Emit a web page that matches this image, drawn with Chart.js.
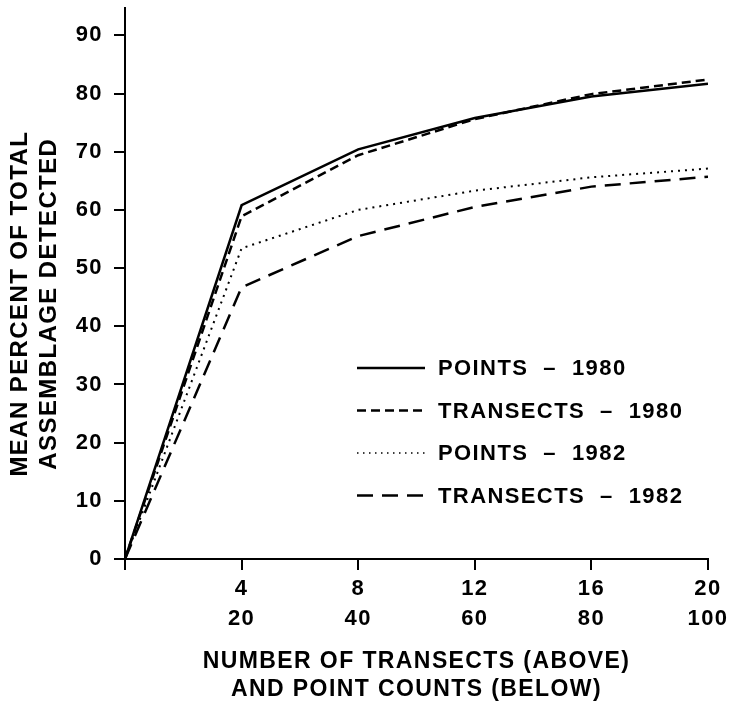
<!DOCTYPE html>
<html>
<head>
<meta charset="utf-8">
<script src="https://cdn.jsdelivr.net/npm/chart.js@4/dist/chart.umd.min.js"></script>
<style>
  html, body { margin: 0; padding: 0; background: #fff; }
  #wrap { width: 731px; height: 701px; }
</style>
</head>
<body>
<div id="wrap"><canvas id="detectChart" width="731" height="701"></canvas></div>
<script>
// transect counts (x), point counts are 5x the transects
const transects = [0, 4, 8, 12, 16, 20];
const transectLabels = ['', '4', '8', '12', '16', '20'];
const pointLabels = ['', '20', '40', '60', '80', '100'];
const yTicks = [0, 10, 20, 30, 40, 50, 60, 70, 80, 90];

const points1980 = [0, 60.8, 70.4, 75.8, 79.5, 81.7];
const transects1980 = [0, 58.9, 69.4, 75.6, 79.9, 82.4];
const points1982 = [0, 53.4, 60.0, 63.3, 65.6, 67.1];
const transects1982 = [0, 46.7, 55.5, 60.5, 64.0, 65.7];

const seriesNames = ['POINTS  \u2013  1980', 'TRANSECTS  \u2013  1980', 'POINTS  \u2013  1982', 'TRANSECTS  \u2013  1982'];

const FONT = '"Liberation Sans", Arial, sans-serif';

const toXY = vals => vals.map((v, i) => ({ x: transects[i], y: v }));

// keep the letter spacing of the printed figure
const spacingPlugin = {
    id: 'spacing',
    beforeLayout(chart) { chart.ctx.letterSpacing = '1.4px'; },
    beforeDraw(chart) { chart.ctx.letterSpacing = '1.4px'; },
};

// legend drawn inside the plot, like the original figure
const insideLegend = {
    id: 'insideLegend',
    afterDatasetsDraw(chart, args, opts) {
        const ctx = chart.ctx;
        chart.data.datasets.forEach((ds, i) => {
            const y = opts.y0 + i * opts.dy;
            ctx.save();
            ctx.strokeStyle = '#000';
            ctx.lineWidth = ds.legendWidth || ds.borderWidth;
            ctx.setLineDash(ds.legendDash || ds.borderDash || []);
            ctx.beginPath();
            ctx.moveTo(opts.x0, y);
            ctx.lineTo(opts.x1, y);
            ctx.stroke();
            ctx.setLineDash([]);
            ctx.fillStyle = '#000';
            ctx.font = 'bold 22px ' + FONT;
            ctx.textBaseline = 'middle';
            ctx.textAlign = 'left';
            ctx.fillText(ds.label, opts.textX, y + 1);
            ctx.restore();
        });
    }
};

const ctx = document.getElementById('detectChart').getContext('2d');
new Chart(ctx, {
    type: 'line',
    data: {
        datasets: [
            {
                label: seriesNames[0],
                data: toXY(points1980),
                borderColor: '#000',
                borderWidth: 2.5,
                borderDash: [],
            },
            {
                label: seriesNames[1],
                data: toXY(transects1980),
                borderColor: '#000',
                borderWidth: 2.5,
                borderDash: [9, 5],
            },
            {
                label: seriesNames[2],
                data: toXY(points1982),
                borderColor: '#000',
                borderWidth: 2,
                borderDash: [2, 5],
                legendDash: [1.5, 4.5],
                legendWidth: 1.5,
            },
            {
                label: seriesNames[3],
                data: toXY(transects1982),
                borderColor: '#000',
                borderWidth: 2.5,
                borderDash: [16, 9],
            },
        ]
    },
    options: {
        responsive: false,
        animation: false,
        maintainAspectRatio: false,
        layout: { padding: { left: 0, top: 8, right: 23, bottom: 0 } },
        elements: {
            point: { radius: 0 },
            line: { tension: 0, fill: false },
        },
        plugins: {
            legend: { display: false },
            tooltip: { enabled: false },
            insideLegend: { x0: 357, x1: 425, textX: 438, y0: 368, dy: 42.5 },
        },
        scales: {
            x: {
                type: 'linear',
                min: 0,
                max: 20,
                afterBuildTicks: scale => { scale.ticks = transects.map(v => ({ value: v })); },
                afterFit: scale => {
                    scale.height = 142;
                    scale.paddingLeft = 0;
                    scale.paddingRight = 0;
                },
                border: { display: true, color: '#000', width: 2 },
                grid: { drawOnChartArea: false, drawTicks: true, tickLength: 11, tickColor: '#000', lineWidth: 2 },
                ticks: {
                    color: '#000',
                    padding: 4,
                    maxRotation: 0,
                    autoSkip: false,
                    font: { family: FONT, size: 22, weight: 'bold', lineHeight: 30 / 22 },
                    callback: (value) => {
                        const i = transects.indexOf(value);
                        return i > 0 ? [transectLabels[i], pointLabels[i]] : '';
                    },
                },
                title: {
                    display: true,
                    text: ['NUMBER OF TRANSECTS (ABOVE)', 'AND POINT COUNTS (BELOW)'],
                    color: '#000',
                    font: { family: FONT, size: 23, weight: 'bold', lineHeight: 28 / 23 },
                    padding: { top: 0, bottom: -3 },
                },
            },
            y: {
                min: 0,
                max: 94.7,
                afterBuildTicks: scale => { scale.ticks = yTicks.map(v => ({ value: v })); },
                afterFit: scale => {
                    scale.width = 125;
                    scale.paddingTop = 0;
                    scale.paddingBottom = 0;
                },
                border: { display: true, color: '#000', width: 2 },
                grid: { drawOnChartArea: false, drawTicks: true, tickLength: 11, tickColor: '#000', lineWidth: 2 },
                ticks: {
                    color: '#000',
                    padding: 11,
                    font: { family: FONT, size: 22, weight: 'bold' },
                },
                title: {
                    display: true,
                    // trailing spaces nudge the centred title down to where the original sits
                    text: ['MEAN PERCENT OF TOTAL     ', 'ASSEMBLAGE DETECTED     '],
                    color: '#000',
                    font: { family: FONT, size: 24, weight: 'bold', lineHeight: 29 / 24 },
                    padding: { top: 6, bottom: 0 },
                },
            },
        },
    },
    plugins: [spacingPlugin, insideLegend],
});
</script>
</body>
</html>
